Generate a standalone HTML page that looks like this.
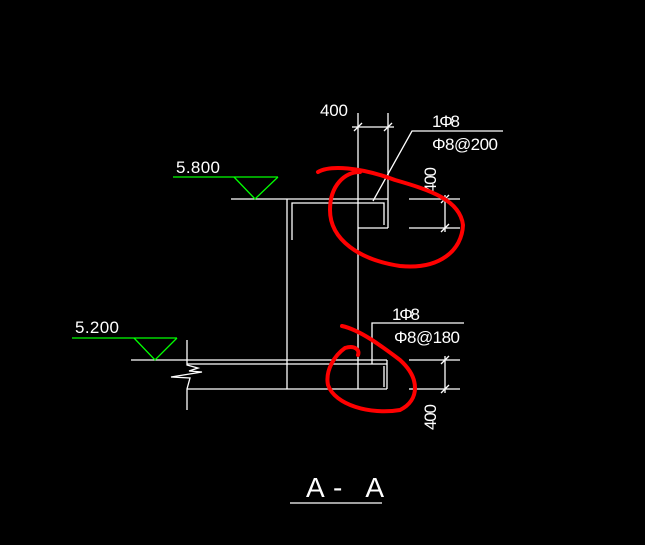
<!DOCTYPE html>
<html><head><style>body{margin:0;background:#000}svg{display:block}text{font-family:"Liberation Sans",sans-serif;fill:#fff}</style></head><body>
<svg width="645" height="545" viewBox="0 0 645 545" xmlns="http://www.w3.org/2000/svg">
<rect width="645" height="545" fill="#000"/>
<g stroke="#fff" stroke-width="1.3" fill="none">
<!-- column -->
<line x1="358" y1="113" x2="358" y2="389"/>
<line x1="388" y1="113" x2="388" y2="228"/>
<line x1="287" y1="199" x2="287" y2="389"/>
<line x1="231" y1="199" x2="388" y2="199"/>
<line x1="358" y1="228" x2="388" y2="228"/>
<polyline points="292,240 292,203 384,203 384,225"/>
<!-- top dim -->
<line x1="352" y1="127" x2="394" y2="127"/>
<line x1="354" y1="131" x2="362" y2="123"/><line x1="384" y1="131" x2="392" y2="123"/>
<polyline points="373,201 412,131 503,131"/>
<line x1="409" y1="199" x2="460" y2="199"/><line x1="409" y1="228" x2="460" y2="228"/>
<line x1="445" y1="195" x2="445" y2="232"/>
<line x1="441" y1="203" x2="449" y2="195"/><line x1="441" y1="232" x2="449" y2="224"/>
<!-- bottom slab -->
<line x1="131" y1="360" x2="387" y2="360"/>
<line x1="187" y1="364" x2="387" y2="364"/>
<line x1="187" y1="389" x2="387" y2="389"/>
<line x1="387" y1="360" x2="387" y2="389"/>
<line x1="384" y1="366" x2="384" y2="387"/>
<polyline points="187,340 187,365 198,368 189,371 202,372 171,377 190,378 187,389 187,410"/>
<polyline points="372,364 372,323 464,323"/>
<line x1="409" y1="360" x2="460" y2="360"/><line x1="409" y1="389" x2="460" y2="389"/>
<line x1="445" y1="356" x2="445" y2="393"/>
<line x1="441" y1="364" x2="449" y2="356"/><line x1="441" y1="393" x2="449" y2="385"/>
<line x1="290" y1="503" x2="382" y2="503"/>
</g>
<g stroke="#0f0" stroke-width="1.3" fill="none">
<line x1="173" y1="177" x2="278" y2="177"/>
<polyline points="234,177 255,199 278,177"/>
<line x1="72" y1="338" x2="177" y2="338"/>
<polyline points="134,338 155,360 177,338"/>
</g>
<g font-size="17">
<text x="176" y="173" textLength="44">5.800</text>
<text x="75" y="333" textLength="44">5.200</text>
<text x="320" y="116" textLength="28">400</text>
<text x="432" y="127" textLength="28">1Φ8</text>
<text x="432" y="150" textLength="66">Φ8@200</text>
<text x="392" y="320" textLength="28">1Φ8</text>
<text x="394" y="343" textLength="66">Φ8@180</text>
<text transform="translate(436,193) rotate(-90)" textLength="26">400</text>
<text transform="translate(436,430) rotate(-90)" textLength="26">400</text>
<text x="306" y="497" font-size="28" textLength="78">A- A</text>
</g>
<g stroke="#f00" stroke-width="4" fill="none" stroke-linecap="round">
<path d="M318,172 C330,165 360,167 395,180 C430,190 460,200 463,225 C462,250 440,270 400,266 C360,260 330,240 330,210 C330,185 345,172 360,172"/>
<path d="M342,326 C360,330 380,345 400,360 C420,378 420,400 400,410 C370,415 335,405 328,385 C325,370 335,355 345,348 C355,345 360,350 358,355"/>
</g>
</svg>
</body></html>
